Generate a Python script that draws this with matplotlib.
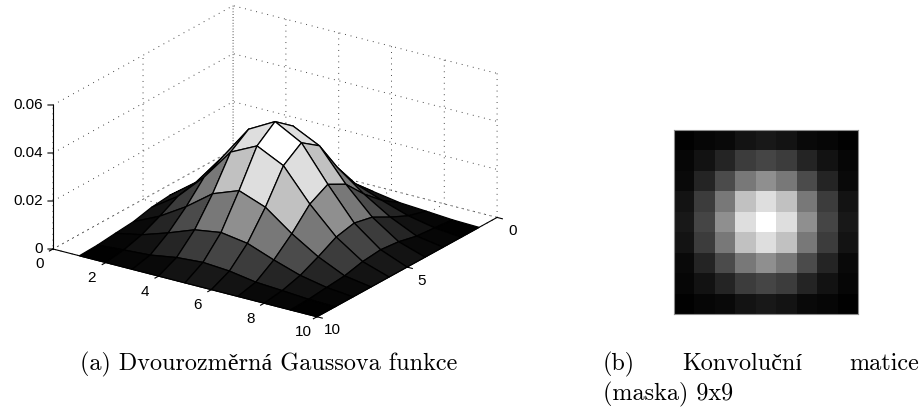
import numpy as np
import matplotlib
matplotlib.use("Agg")
import matplotlib.pyplot as plt
from mpl_toolkits.mplot3d import proj3d

W, H = 923, 407

# Surface heights (10x10, last row/column is zero)
Z_VALUES = [
 [.0003,.0011,.0018,.0036,.0044,.0036,.0018,.0011,.0003,0],
 [.0011,.0033,.0069,.0110,.0127,.0110,.0069,.0033,.0011,0],
 [.0018,.0069,.0137,.0219,.0260,.0219,.0137,.0069,.0018,0],
 [.0036,.0110,.0219,.0351,.0405,.0351,.0219,.0110,.0036,0],
 [.0044,.0127,.0260,.0405,.0465,.0405,.0260,.0127,.0044,0],
 [.0036,.0110,.0219,.0351,.0405,.0351,.0219,.0110,.0036,0],
 [.0018,.0069,.0137,.0219,.0260,.0219,.0137,.0069,.0018,0],
 [.0011,.0033,.0069,.0110,.0127,.0110,.0069,.0033,.0011,0],
 [.0003,.0011,.0018,.0036,.0044,.0036,.0018,.0011,.0003,0],
 [0,0,0,0,0,0,0,0,0,0],
]
GRID = [1, 2, 3, 4, 5, 6, 7, 8, 9, 10]
X_TICKS = [0, 5, 10]
Y_TICKS = [0, 2, 4, 6, 8, 10]
Z_TICKS = [0, 0.02, 0.04, 0.06]
Z_LABELS = ["0", "0.02", "0.04", "0.06"]
CAPTION_A = "(a) Dvourozměrná Gaussova funkce"
CAPTION_B = ["(b)", "Konvoluční", "matice"]
CAPTION_B2 = "(maska) 9x9"

Z = np.array(Z_VALUES)
plt.rcParams["font.family"] = ["Liberation Sans", "DejaVu Sans"]
SERIF = ["cmr10", "Liberation Serif", "DejaVu Serif"]

fig = plt.figure(figsize=(W / 100, H / 100), dpi=100)

# ---- 3D surface ----
side = 700
ax = fig.add_axes([0, 0, side / W, side / H], projection="3d", proj_type="ortho")
ax.set_xlim(0, 10); ax.set_ylim(0, 10); ax.set_zlim(0, 0.06)
ax.view_init(elev=22.1, azim=34.3)
ax.patch.set_alpha(0)
ax.set_xticks(X_TICKS); ax.set_yticks(Y_TICKS); ax.set_zticks(Z_TICKS)
ax.set_xticklabels([]); ax.set_yticklabels([]); ax.set_zticklabels([])
for axis in (ax.xaxis, ax.yaxis, ax.zaxis):
    axis.pane.set_visible(False)
    axis.line.set_color((1, 1, 1, 0))
    axis._axinfo["tick"]["inward_factor"] = 0
    axis._axinfo["tick"]["outward_factor"] = 0
    axis._axinfo["grid"].update(color="#333333", linewidth=0.7, linestyle=(0, (0.9, 5.0)))


def to_px(x, y, z):
    ax.apply_aspect()
    a, b, _ = proj3d.proj_transform(x, y, z, ax.get_proj())
    return ax.transData.transform((a, b))


# scale the box so the y axis runs the measured length, then move the axes to the corner
ax.set_box_aspect((1, 1, 0.4864), zoom=1)
p0, p1 = to_px(10, 0, 0), to_px(10, 10, 0)
zoom = (317 - 53) / (p1[0] - p0[0])
ax.set_box_aspect((1, 1, 0.4864), zoom=zoom)
corner = to_px(10, 0, 0)
ax.set_position([(53 - corner[0]) / W, ((H - 249) - corner[1]) / H, side / W, side / H])

Xg, Yg = np.meshgrid(GRID, GRID)
colors = plt.cm.gray(np.clip(Z / Z.max(), 0, 1))
ax.plot_surface(Xg, Yg, Z, facecolors=colors, shade=False, rstride=1, cstride=1,
                edgecolor="black", linewidth=0.9, antialiased=True)

AX_KW = dict(color="black", linewidth=0.8)
ax.plot([10, 10], [0, 0], [0, 0.06], **AX_KW)
ax.plot([10, 10], [0, 10], [0, 0], **AX_KW)
ax.plot([10, 0], [10, 10], [0, 0], **AX_KW)
FS = 11


def label(x, y, z, s, ha="center"):
    p = to_px(x, y, z)
    fig.text(p[0] / W, p[1] / H, s, ha=ha, va="center", fontsize=FS)


for t, s in zip(Z_TICKS, Z_LABELS):
    ax.plot([10, 10.28], [0, 0], [t, t + 0.00115], **AX_KW)
    label(10.55, 0, t + 0.0023, s, ha="right")
for t in Y_TICKS:
    ax.plot([10, 10.2], [t, t], [0, 0], **AX_KW)
    label(10.77, t, -0.00325, str(t))
for t in X_TICKS:
    ax.plot([t, t], [10, 10.2], [0, 0], **AX_KW)
    label(t, 10.57, -0.004, str(t))

# ---- mask image ----
ax2 = fig.add_axes([674 / W, (H - 314) / H, 184 / W, 184 / H])
ax2.imshow(Z[:9, :9], cmap="gray", vmin=0, vmax=Z.max(), interpolation="nearest", aspect="auto")
ax2.set_xticks([]); ax2.set_yticks([])
for sp in ax2.spines.values():
    sp.set_color("#8c8c8c"); sp.set_linewidth(0.8)

# ---- captions ----
CAP = 17.4
def cap(x, y, s):
    fig.text(x / W, (H - y) / H, s, family=SERIF, fontsize=CAP, ha="left", va="baseline")

cap(80, 370, CAPTION_A)
for x, s in zip([603, 682, 849], CAPTION_B):
    cap(x, 370, s)
cap(603, 400, CAPTION_B2)

fig.savefig("out.png", dpi=100)
